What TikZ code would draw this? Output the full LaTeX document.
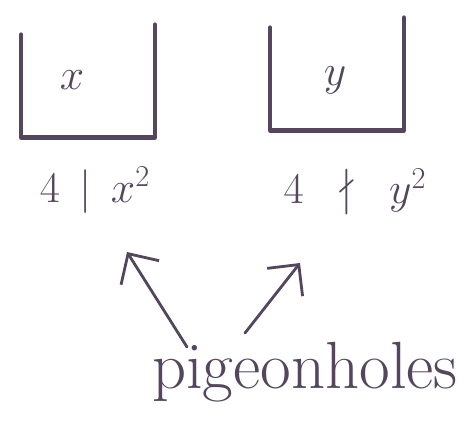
\documentclass[tikz,border=0pt]{standalone}
\usepackage{amssymb}
\usetikzlibrary{positioning, arrows.meta, calc}
\definecolor{colorink}{HTML}{54465C}

\begin{document}
\begin{tikzpicture}[
    % one unit = one pixel of the sketch, y running down
    x=0.02cm, y=-0.02cm,
    % the open boxes (only used for their anchors)
    hole/.style={
        rectangle,
        minimum width=2.66cm,
        minimum height=2.04cm,
        inner sep=0pt
    },
    % marker strokes
    pen/.style={
        colorink,
        line width=2.6pt,
        line cap=round,
        line join=round
    },
    % thinner strokes with an open barb
    arrow/.style={
        -{Straight Barb[length=4.5mm, width=9mm, line width=1.6pt]},
        colorink,
        line width=1.6pt,
        line cap=round
    },
    % handwriting-sized text
    word/.style={
        text=colorink,
        inner sep=0pt,
        font=\fontsize{26}{30}\selectfont
    }
]
\useasboundingbox (0,0) rectangle (467,433);

% ==============================
% Pigeonholes
% ==============================
\node[hole] (xbox) at (88,86) {};
\node[hole] (ybox) at (337,79) {};

\draw[pen] (xbox.north west) -- (xbox.south west) -- (xbox.south east)
    -- ([yshift=0.2cm]xbox.north east);
\draw[pen] (ybox.north west) -- (ybox.south west) -- (ybox.south east)
    -- ([yshift=0.2cm]ybox.north east);

\node[word] (xin) at (72,80) {$x$};
\node[word] (yin) at (335,80) {$y$};

% ==============================
% Labels under the boxes
% ==============================
\node[word] (xdiv) at (95,190) {$4 \,\mid\, x^{2}$};
\node[word] (ydiv) at (355,192) {$4 \;\;\nmid\;\; y^{2}$};

% ==============================
% Caption and arrows
% ==============================
\node[word, font=\fontsize{38}{44}\selectfont] (pig) at (305,372) {pigeonholes};

\coordinate (xfoot) at (187,347);
\coordinate (yfoot) at (245,333);
\coordinate (xtip) at (127,252);
\coordinate (ytip) at (300,263);

\draw[arrow] (xfoot) -- (xtip);
\draw[arrow] (yfoot) -- (ytip);

\end{tikzpicture}
\end{document}
